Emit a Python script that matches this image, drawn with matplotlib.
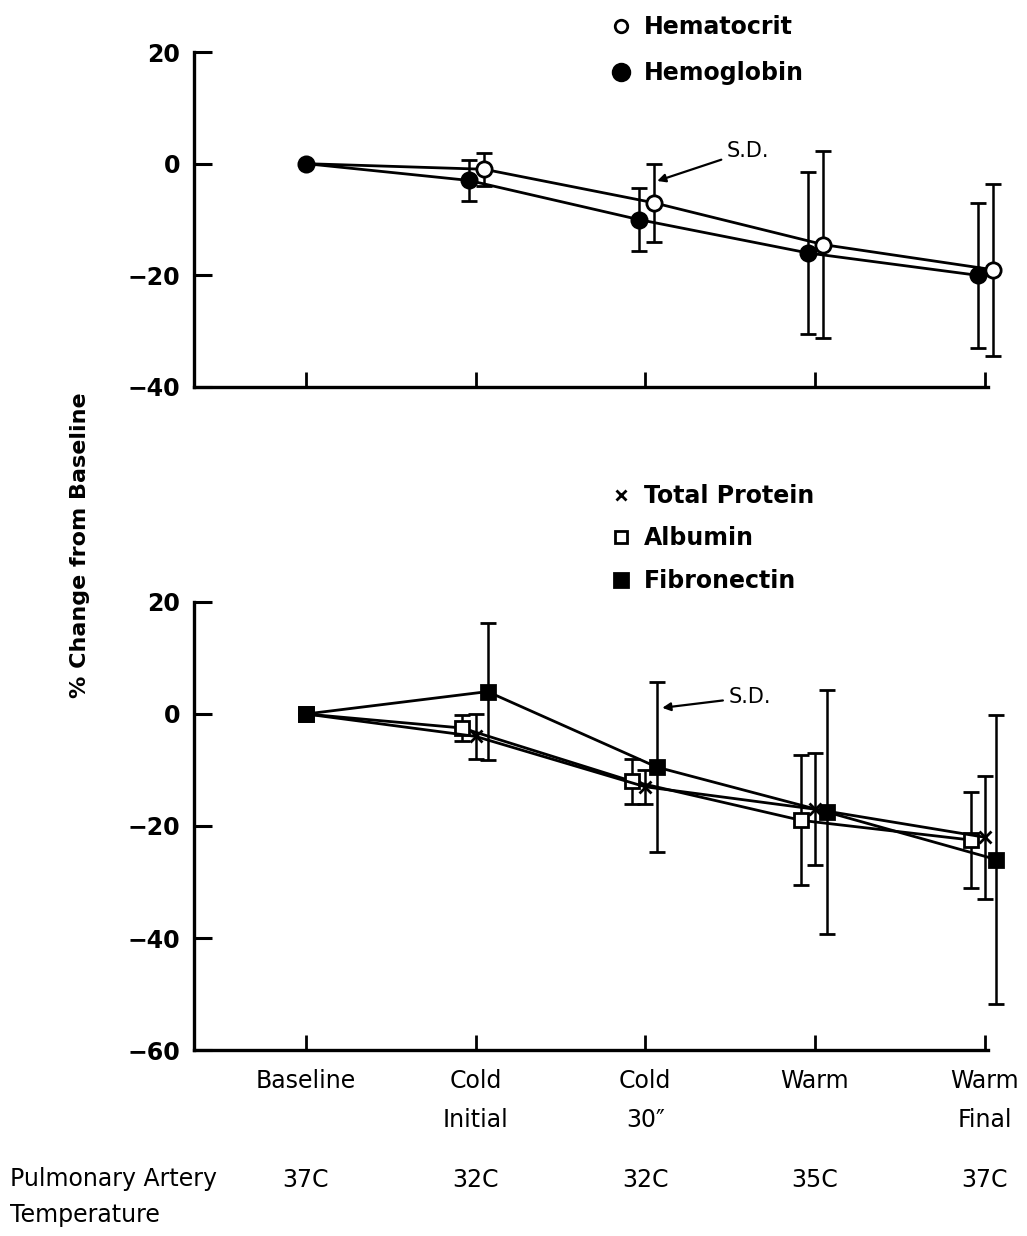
import matplotlib
matplotlib.use("Agg")
import matplotlib.pyplot as plt
import matplotlib.transforms as mtransforms
from matplotlib.lines import Line2D

# categories (x axis) and temperature row
stages = ["Baseline", "Cold\nInitial", "Cold\n30\u2033", "Warm", "Warm\nFinal"]
temps = ["37C", "32C", "32C", "35C", "37C"]

# top panel: % change from baseline, mean and S.D.
hematocrit = [0, -1, -7, -14.5, -19]
hematocrit_sd = [0, 3, 7, 16.8, 15.4]
hemoglobin = [0, -3, -10, -16, -20]
hemoglobin_sd = [0, 3.7, 5.7, 14.5, 13]

# bottom panel
total_protein = [0, -4, -13, -17, -22]
total_protein_sd = [0, 4, 3, 10, 11]
albumin = [0, -2.5, -12, -19, -22.5]
albumin_sd = [0, 2.3, 4, 11.6, 8.5]
fibronectin = [0, 4, -9.5, -17.5, -26]
fibronectin_sd = [0, 12.3, 15.2, 21.7, 25.8]

W, H = 1027, 1236
plt.rcParams['font.family'] = ['DejaVu Sans']

fig = plt.figure(figsize=(W / 100, H / 100), dpi=100)
ax1 = fig.add_axes([194 / W, 1 - 387 / H, 794 / W, 335 / H])
ax2 = fig.add_axes([194 / W, 1 - 1050 / H, 794 / W, 448 / H])

xs = list(range(len(stages)))


def shifted(dx):
    # nudge the points sideways so the error bars do not overlap (not baseline)
    return [x + (dx if i > 0 else 0) for i, x in enumerate(xs)]


def series(ax, dx, y, sd, marker, mfc, ms, z, every=None):
    cont = ax.errorbar(shifted(dx), y, yerr=sd, color='black', lw=2.0,
                       elinewidth=1.8, capsize=6, capthick=1.8,
                       marker=marker, mfc=mfc, mec='black', mew=2, ms=ms,
                       zorder=z, markevery=every)
    for art in cont.get_children():
        art.set_clip_on(False)


series(ax1, -0.04, hemoglobin, hemoglobin_sd, 'o', 'black', 11, 3)
# baseline is shared with hemoglobin: the filled dot shows there
series(ax1, 0.05, hematocrit, hematocrit_sd, 'o', 'white', 11, 4,
       every=[1, 2, 3, 4])

series(ax2, -0.08, albumin, albumin_sd, 's', 'white', 10, 3)
series(ax2, 0.0, total_protein, total_protein_sd, 'x', 'black', 8, 3)
series(ax2, 0.07, fibronectin, fibronectin_sd, 's', 'black', 10, 4)

for ax, lo in ((ax1, -40), (ax2, -60)):
    ax.set_xlim(-0.66, 4.02)
    ax.set_ylim(lo, 20)
    ax.set_yticks(range(lo, 21, 20))
    ax.set_xticks(xs)
    for s in ('top', 'right'):
        ax.spines[s].set_visible(False)
    for s in ('left', 'bottom'):
        ax.spines[s].set_linewidth(2.4)
    ax.tick_params(axis='y', direction='in', length=13, width=2.2,
                   labelsize=17, pad=10)
    ax.tick_params(axis='x', direction='in', length=11, width=2.0)
    for lab in ax.get_yticklabels():
        lab.set_fontweight('bold')

ax1.set_xticklabels([])
ax2.set_xticklabels(stages, fontsize=17)
ax2.tick_params(axis='x', pad=14)
for lab in ax2.get_xticklabels():
    lab.set_linespacing(1.75)

# S.D. callouts
arrow = dict(arrowstyle='-|>', color='black', lw=1.6, mutation_scale=12,
             shrinkA=2, shrinkB=0)
ax1.annotate("S.D.", xy=(2.07, -3.1), xytext=(2.48, 2.3), fontsize=15,
             ha='left', va='center', arrowprops=arrow)
ax2.annotate("S.D.", xy=(2.10, 1.1), xytext=(2.49, 3.0), fontsize=15,
             ha='left', va='center', arrowprops=arrow)

# legends
def handle(marker, mfc, ms):
    return Line2D([], [], ls='none', marker=marker, mfc=mfc, mec='black',
                  mew=2, ms=ms, color='black')


leg_kw = dict(loc='upper left', frameon=False, handlelength=0.7,
              handletextpad=0.6, borderpad=0, borderaxespad=0,
              prop={'size': 17, 'weight': 'bold'})
fig.legend([handle('o', 'white', 9), handle('o', 'black', 12)],
           ["Hematocrit", "Hemoglobin"], labelspacing=0.95,
           bbox_to_anchor=(613 / W, 1 - 15 / H), **leg_kw)
fig.legend([handle('x', 'black', 7), handle('s', 'white', 9),
            handle('s', 'black', 10)],
           ["Total Protein", "Albumin", "Fibronectin"], labelspacing=0.78,
           bbox_to_anchor=(613 / W, 1 - 484 / H), **leg_kw)

fig.text(80 / W, 1 - 545 / H, "% Change from Baseline", rotation=90,
         ha='center', va='center', fontsize=16, fontweight='bold')

# pulmonary artery temperature row
row = mtransforms.blended_transform_factory(ax2.transData, fig.transFigure)
for x, t in zip(xs, temps):
    ax2.text(x, 1 - 1180 / H, t, transform=row, ha='center', va='center',
             fontsize=17, clip_on=False)
fig.text(10 / W, 1 - 1180 / H, "Pulmonary Artery\nTemperature", ha='left',
         va='top', fontsize=17, linespacing=1.65,
         transform=mtransforms.offset_copy(fig.transFigure, fig=fig, y=13,
                                           units='dots'))

fig.savefig("out.png", dpi=100)
